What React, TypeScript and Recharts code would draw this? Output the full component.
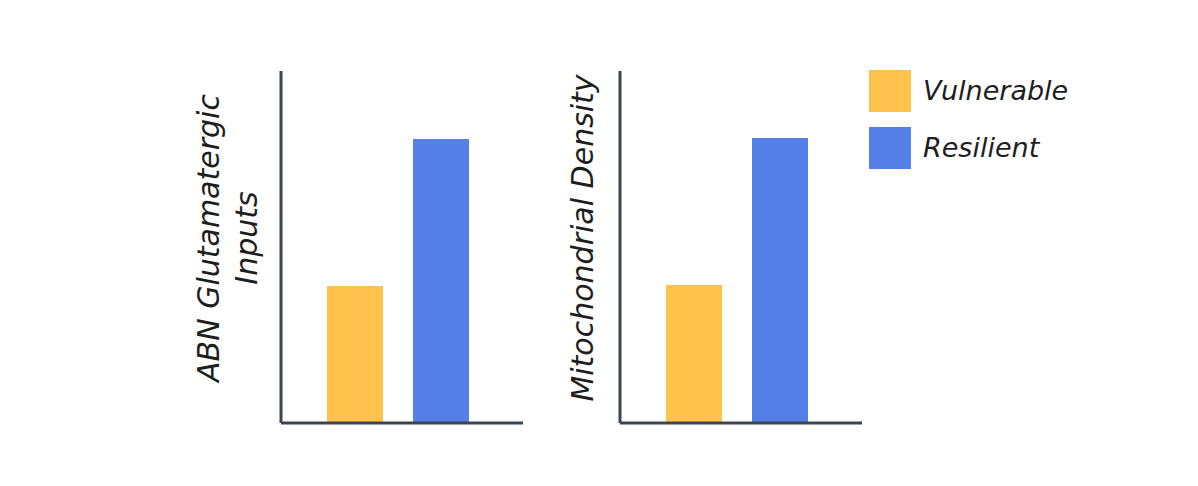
import React from 'react';
import { BarChart, Bar, XAxis, YAxis, Legend } from 'recharts';

const categories = ['ABN Glutamatergic Inputs', 'Mitochondrial Density'];
const axisTitleLines: string[][] = [['ABN Glutamatergic', 'Inputs'], ['Mitochondrial Density']];
const seriesNames = ['Vulnerable', 'Resilient'];
const vulnerableValues = [38.9, 39.2];
const resilientValues = [80.7, 81.0];
const seriesColors = ['#FFC34D', '#5580E8'];

const FONT = '"DejaVu Sans", sans-serif';
const AXIS_COLOR = '#3d4452';
const TEXT_COLOR = '#1e1e1e';

const makeData = (i: number) => [
  {
    category: categories[i],
    [seriesNames[0]]: vulnerableValues[i],
    [seriesNames[1]]: resilientValues[i],
  },
];

const TitleLabel = (lines: string[], baselineXs: number[], centerY: number) => (props: any) => {
  const vb = props.viewBox || { x: 0, y: 0, width: 0, height: 0 };
  return (
    <g>
      {lines.map((line, k) => {
        const x = vb.x + baselineXs[k];
        const y = vb.y + centerY;
        return (
          <text
            key={k}
            x={x}
            y={y}
            transform={`rotate(-90, ${x}, ${y})`}
            textAnchor="middle"
            fontFamily={FONT}
            fontStyle="oblique"
            fontSize={30}
            fill={TEXT_COLOR}
          >
            {line}
          </text>
        );
      })}
    </g>
  );
};

const renderLegend = (props: any) => {
  const payload = [...(props.payload || [])].sort(
    (a: any, b: any) => seriesNames.indexOf(a.value) - seriesNames.indexOf(b.value)
  );
  return (
    <svg width={230} height={110} style={{ display: 'block' }}>
      {payload.map((entry: any, i: number) => (
        <g key={i}>
          <rect x={0} y={i * 57} width={42} height={42} fill={entry.color} />
          <text
            x={54}
            y={i * 57 + 30}
            fontFamily={FONT}
            fontStyle="oblique"
            fontSize={27}
            fill={TEXT_COLOR}
          >
            {entry.value}
          </text>
        </g>
      ))}
    </svg>
  );
};

const axisProps = {
  stroke: AXIS_COLOR,
  strokeWidth: 3,
};

export default function App() {
  return (
    <div style={{ position: 'absolute', left: 0, top: 0, width: 1198, height: 486, background: '#ffffff' }}>
      <div style={{ position: 'absolute', left: 0, top: 0 }}>
        <BarChart
          width={560}
          height={486}
          data={makeData(0)}
          margin={{ top: 71, right: 37, bottom: 62, left: 0 }}
          barSize={56}
          barGap={30}
        >
          <XAxis
            dataKey="category"
            type="category"
            height={1}
            tick={false}
            tickLine={false}
            padding={{ left: 0, right: 9 }}
            axisLine={axisProps}
          />
          <YAxis
            type="number"
            domain={[0, 100]}
            width={281}
            tick={false}
            tickLine={false}
            axisLine={axisProps}
            label={{ content: TitleLabel(axisTitleLines[0], [219, 257], 167) }}
          />
          {seriesNames.map((name, i) => (
            <Bar key={name} dataKey={name} name={name} fill={seriesColors[i]} isAnimationActive={false} />
          ))}
        </BarChart>
      </div>
      <div style={{ position: 'absolute', left: 560, top: 0 }}>
        <BarChart
          width={638}
          height={486}
          data={makeData(1)}
          margin={{ top: 71, right: 336, bottom: 62, left: 0 }}
          barSize={56}
          barGap={30}
        >
          <XAxis
            dataKey="category"
            type="category"
            height={1}
            tick={false}
            tickLine={false}
            padding={{ left: 0, right: 9 }}
            axisLine={axisProps}
          />
          <YAxis
            type="number"
            domain={[0, 100]}
            width={60}
            tick={false}
            tickLine={false}
            axisLine={axisProps}
            label={{ content: TitleLabel(axisTitleLines[1], [33], 167) }}
          />
          <Legend
            layout="vertical"
            align="center"
            verticalAlign="middle"
            content={renderLegend}
            wrapperStyle={{ left: 309, top: 70, width: 230, height: 110 }}
          />
          {seriesNames.map((name, i) => (
            <Bar key={name} dataKey={name} name={name} fill={seriesColors[i]} isAnimationActive={false} />
          ))}
        </BarChart>
      </div>
    </div>
  );
}
